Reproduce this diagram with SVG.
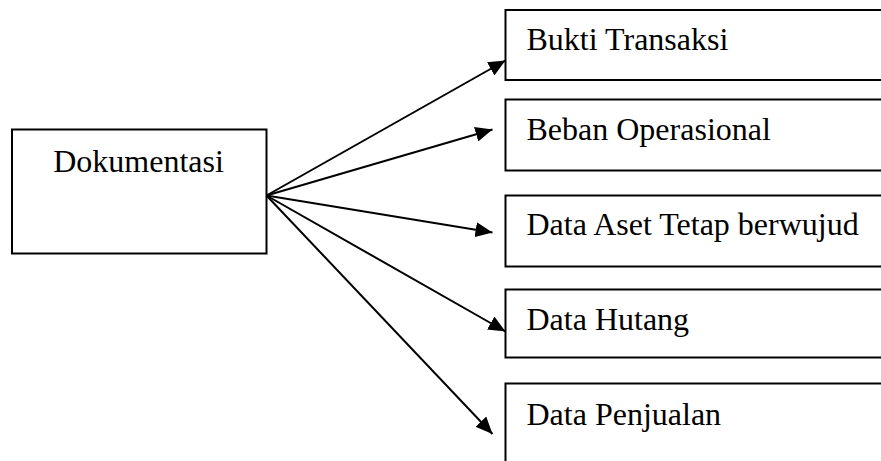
<svg xmlns="http://www.w3.org/2000/svg" width="881" height="461" viewBox="0 0 881 461">
<style>
.box{fill:#fff;stroke:#000;stroke-width:2}
.lbl{font-family:"Liberation Serif","Times New Roman",serif;font-size:32px;fill:#000}
.conn{stroke:#000;stroke-width:2;fill:none}
</style>
<defs>
<marker id="ah" markerUnits="userSpaceOnUse" markerWidth="18" markerHeight="15" refX="17" refY="7.5" orient="auto">
<path d="M0,0 L17,7.5 L0,15 z" fill="#000"/>
</marker>
</defs>
<rect width="881" height="461" fill="#fff"/>
<g id="dokumentasi">
<rect class="box" x="12" y="129.5" width="254.5" height="124"/>
<text class="lbl" x="138.5" y="171.5" text-anchor="middle">Dokumentasi</text>
</g>
<g id="bukti-transaksi">
<rect class="box" x="505.5" y="10" width="380" height="70"/>
<text class="lbl" x="526.5" y="50">Bukti Transaksi</text>
</g>
<g id="beban-operasional">
<rect class="box" x="505.5" y="99.5" width="380" height="71"/>
<text class="lbl" x="526.5" y="139.5">Beban Operasional</text>
</g>
<g id="data-aset">
<rect class="box" x="505.5" y="195.5" width="380" height="71"/>
<text class="lbl" x="526.5" y="235">Data Aset Tetap berwujud</text>
</g>
<g id="data-hutang">
<rect class="box" x="505.5" y="289.5" width="380" height="68"/>
<text class="lbl" x="526.5" y="329.5">Data Hutang</text>
</g>
<g id="data-penjualan">
<rect class="box" x="505.5" y="383.5" width="380" height="90"/>
<text class="lbl" x="526.5" y="425">Data Penjualan</text>
</g>
<g id="connectors">
<line class="conn" x1="266.5" y1="195.5" x2="505.5" y2="60.5" marker-end="url(#ah)"/>
<line class="conn" x1="266.5" y1="195.5" x2="492.5" y2="129.5" marker-end="url(#ah)"/>
<line class="conn" x1="266.5" y1="195.5" x2="492.5" y2="232.5" marker-end="url(#ah)"/>
<line class="conn" x1="266.5" y1="195.5" x2="505.5" y2="331.5" marker-end="url(#ah)"/>
<line class="conn" x1="266.5" y1="195.5" x2="492.5" y2="434" marker-end="url(#ah)"/>
</g>
</svg>
